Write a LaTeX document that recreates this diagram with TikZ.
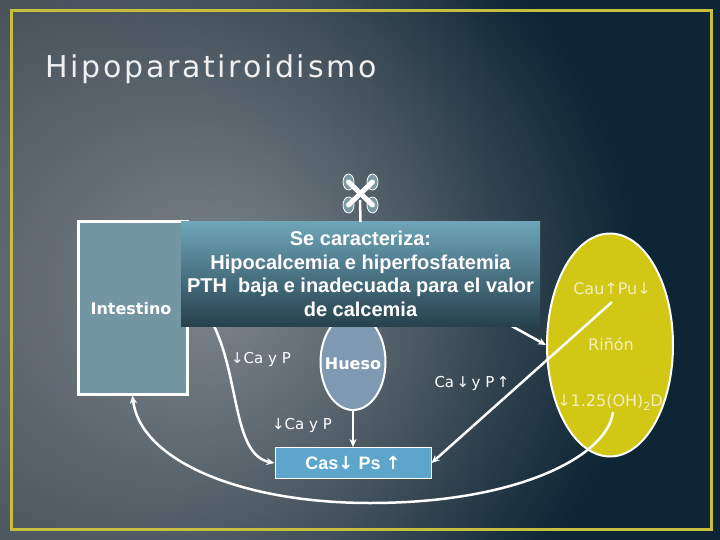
\documentclass[tikz,border=0pt]{standalone}
\usepackage{fontspec}
\setmainfont{Liberation Sans}
\newfontfamily\dvs{DejaVu Sans}
\usetikzlibrary{shapes.geometric,arrows.meta,fadings}
\definecolor{navy}{HTML}{0E2535}
\definecolor{bgleft}{HTML}{3E4852}
\definecolor{bgspot}{HTML}{7E868C}
\definecolor{frame}{HTML}{C6BF3C}
\definecolor{intc}{HTML}{7397A2}
\definecolor{captop}{HTML}{6EA5B8}
\definecolor{capbot}{HTML}{27414D}
\definecolor{huesoc}{HTML}{8099B2}
\definecolor{casc}{HTML}{5EA5CC}
\definecolor{kidc}{HTML}{D2C714}
\definecolor{kidtext}{HTML}{F3EEC0}
\definecolor{petalc}{HTML}{7B9AA4}
\tikzfading[name=spotfade, inner color=transparent!0, outer color=transparent!100]
\newcommand{\arrdn}{{\dvs ↓}}
\newcommand{\arrup}{{\dvs ↑}}
\begin{document}
\begin{tikzpicture}[x=1pt,y=-1pt,
  conn/.style={white, line width=2.5pt, -{Stealth[length=8pt,width=7pt]}},
  plain/.style={white, line width=2.5pt},
  lab/.style={text=white, inner sep=0pt, font=\dvs\fontsize{15}{15}\selectfont},
  kidlab/.style={text=kidtext, inner sep=0pt, font=\dvs\fontsize{16}{16}\selectfont},
  boldlab/.style={text=white, inner sep=0pt, font=\dvs\bfseries\fontsize{16}{16}\selectfont},
  petal/.style={ellipse, draw=white, line width=0.8pt, fill=petalc, minimum width=11pt, minimum height=16pt, inner sep=0pt}
]
\useasboundingbox (0,0) rectangle (720,540);
% background
\fill[navy] (0,0) rectangle (720,540);
\shade[left color=bgleft, right color=navy] (0,0) rectangle (490,540);
\fill[bgspot, path fading=spotfade, fit fading=true] (210,290) circle (430);
\draw[frame, line width=3pt] (11,11) rectangle (711,529);

% title
\node[anchor=base west, inner sep=0pt, text=white!94!black,
  font=\dvs\fontsize{30}{30}\selectfont\addfontfeature{LetterSpace=9}] (title) at (45,78) {Hipoparatiroidismo};

% Intestino
\node[draw=white, line width=3pt, fill=intc, minimum width=109pt, minimum height=172pt, inner sep=0pt] (int) at (132.5,308) {};
\node[boldlab] (inttext) at (131,309) {Intestino};

% Hueso
\node[ellipse, draw=white, line width=2pt, fill=huesoc, minimum width=65pt, minimum height=96pt, inner sep=0pt] (hueso) at (353,362) {};
\node[boldlab] (huesotext) at (353,364) {Hueso};

% Rinon
\node[ellipse, draw=white, line width=2pt, fill=kidc, minimum width=126pt, minimum height=223pt, inner sep=0pt] (kid) at (610,345) {};
\node[kidlab] (k1) at (612,289) {Cau↑Pu↓};
\node[kidlab] (k2) at (611,344) {Riñón};
\node[kidlab] (k3) at (610,402) {↓1.25(OH)\raisebox{-4pt}{\fontsize{11}{11}\selectfont 2}D};

% Cas box
\node[draw=white, line width=1pt, fill=casc, minimum width=156pt, minimum height=31pt, inner sep=0pt,
  text=white, font=\bfseries\fontsize{18}{18}\selectfont] (cas) at (353,463) {Cas\arrdn\ Ps \arrup};

% labels
\node[lab] (l1) at (261,359) {↓Ca y P};
\node[lab] (l2) at (302,425) {↓Ca y P};
\node[lab] (l3) at (472,383) {Ca\,↓\,y P\,↑};

% coordinates
\coordinate (c1) at (212,322);
\coordinate (c3) at (508,324);
\coordinate (ck) at (612,302);
\coordinate (cb) at (613,412);
\coordinate (xs) at (360,200);

% connectors
\draw[conn] (c1) .. controls (240,375) and (232,455) .. (cas.west);
\draw[conn] (hueso.south) -- (cas.north);
\draw[conn] (ck) -- (cas.east);
\draw[conn] (c3) -- (kid.west);
\draw[conn] (cb) .. controls (608,455) and (520,503) .. (370,503)
   .. controls (240,503) and (140,460) .. (int.south);

% caption box
\node[minimum width=359pt, minimum height=104pt, inner sep=0pt, align=center,
  top color=captop, bottom color=capbot, text=white,
  font=\bfseries\fontsize{20}{23.7}\selectfont] (cap) at (360.5,274)
  {Se caracteriza:\\Hipocalcemia e hiperfosfatemia\\PTH\ \ baja e inadecuada para el valor\\de calcemia};

% X symbol
\node[petal] (p1) at (348.5,182) {};
\node[petal] (p2) at (372.5,182) {};
\node[petal] (p3) at (348.5,205) {};
\node[petal] (p4) at (372.5,205) {};
\draw[plain] (xs) -- (cap.north);
\draw[white, line width=5pt, line cap=round] (p1.center) -- (p4.center);
\draw[white, line width=5pt, line cap=round] (p2.center) -- (p3.center);
\end{tikzpicture}
\end{document}
